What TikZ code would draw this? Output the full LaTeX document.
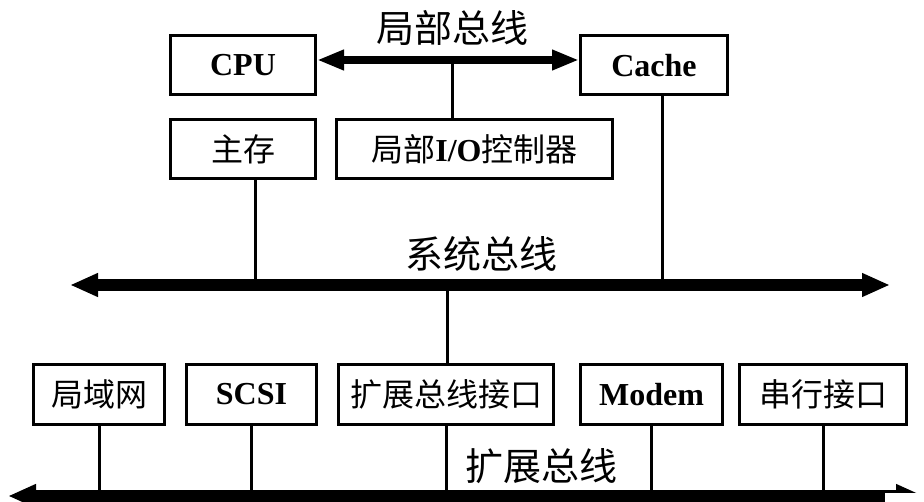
\documentclass[tikz,border=0pt]{standalone}
\usepackage{fontspec}
\setmainfont{Liberation Serif}
\newfontfamily\cjk{Noto Sans CJK SC}
\usetikzlibrary{arrows.meta}
\tikzset{
  box/.style={draw, line width=3pt, minimum height=59pt, inner sep=0pt, font=\fontsize{32}{36}\selectfont},
  wire/.style={line width=3pt},
  localbus/.style={line width=8pt, {Triangle[length=27pt,width=19pt]}-{Triangle[length=27pt,width=19pt]}},
  bigbus/.style={line width=12pt, {Triangle[length=28pt,width=22pt]}-{Triangle[length=28pt,width=22pt]}},
  buslabel/.style={font=\cjk\fontsize{38}{40}\selectfont, inner sep=0pt}
}
\begin{document}
\begin{tikzpicture}[x=1pt,y=-1pt]
\useasboundingbox[fill=white] (0,0) rectangle (924,502);
% top boxes
\node[box, minimum width=145pt] (cpu) at (243,65) {\bfseries CPU};
\node[box, minimum width=147pt] (cache) at (654,65.5) {\bfseries Cache};
\node[box, minimum width=145pt] (mem) at (243,149) {\cjk 主存};
\node[box, minimum width=276pt] (io) at (474.5,149) {{\cjk 局部}\textbf{I/O}{\cjk 控制器}};
% bottom boxes
\node[box, minimum width=131pt, minimum height=60pt] (lan) at (99,394.5) {\cjk 局域网};
\node[box, minimum width=130pt, minimum height=60pt] (scsi) at (251.5,394.5) {\bfseries SCSI};
\node[box, minimum width=215pt, minimum height=60pt] (ext) at (446,394.5) {\cjk 扩展总线接口};
\node[box, minimum width=142pt, minimum height=60pt] (modem) at (651.5,394.5) {\bfseries Modem};
\node[box, minimum width=167pt, minimum height=60pt] (ser) at (823,394.5) {\cjk 串行接口};
% bus coordinates
\coordinate (lb) at (452,60);
\coordinate (sysL) at (70,285);
\coordinate (sysR) at (890,285);
\coordinate (expL) at (8,496);
\coordinate (expR) at (924,496);
% local bus
\draw[localbus] (cpu.east |- lb) -- (cache.west |- lb);
\draw[wire] (lb) -- (lb |- io.north);
\node[buslabel] (lbl) at (452,28) {局部总线};
% system bus
\draw[wire] ([xshift=12pt]mem.south) -- ([xshift=12pt]mem.south |- sysL);
\draw[wire] ([xshift=8pt]cache.south) -- ([xshift=8pt]cache.south |- sysL);
\draw[wire] (ext.north -| 447,0) -- (sysL -| 447,0);
\draw[bigbus] (sysL) -- (sysR);
\node[buslabel] (sbl) at (481,254) {系统总线};
% expansion bus
\foreach \n in {lan,scsi,ext,modem,ser}
  \draw[wire] (\n.south) -- (\n.south |- expL);
\draw[bigbus] (expL) -- (expR);
\node[buslabel] (ebl) at (541,466) {扩展总线};
\fill[white] (885,493) rectangle (924,502);
\end{tikzpicture}
\end{document}
